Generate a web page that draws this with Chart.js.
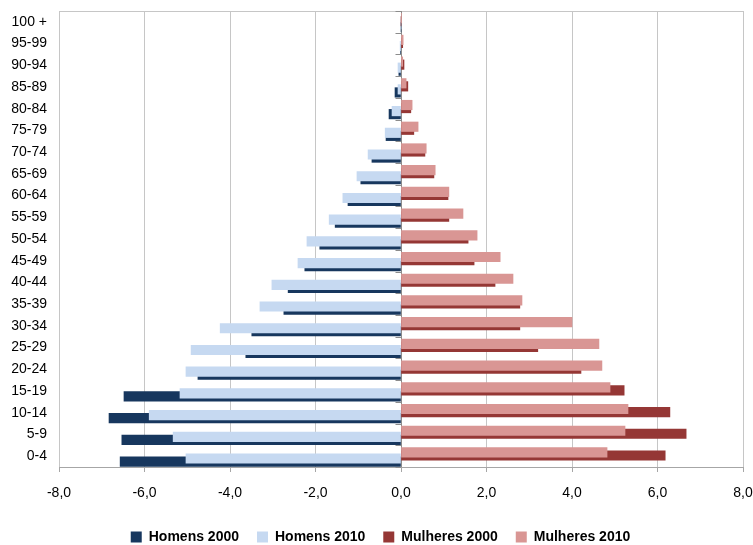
<!DOCTYPE html>
<html>
<head>
<meta charset="utf-8">
<script src="https://cdn.jsdelivr.net/npm/chart.js@4/dist/chart.umd.min.js"></script>
<style>
  html, body { margin: 0; padding: 0; background: #fff; }
  #wrap { width: 753px; height: 545px; }
</style>
</head>
<body>
<div id="wrap"><canvas id="c" width="753" height="545"></canvas></div>
<script>
// Age groups, bottom (youngest) to top (oldest)
const ageGroups = ['0-4', '5-9', '10-14', '15-19', '20-24', '25-29', '30-34', '35-39', '40-44', '45-49',
  '50-54', '55-59', '60-64', '65-69', '70-74', '75-79', '80-84', '85-89', '90-94', '95-99', '100 +'];

// Share of the population (%), men drawn to the left as negative values
const homens2000 = [-6.57, -6.53, -6.83, -6.48, -4.75, -3.63, -3.49, -2.74, -2.64, -2.25,
  -1.90, -1.54, -1.24, -0.94, -0.68, -0.35, -0.28, -0.14, -0.05, -0.01, 0];
const homens2010 = [-5.03, -5.33, -5.89, -5.17, -5.03, -4.91, -4.23, -3.30, -3.02, -2.41,
  -2.20, -1.68, -1.36, -1.03, -0.77, -0.37, -0.21, -0.07, -0.07, -0.02, 0];
const mulheres2000 = [6.18, 6.67, 6.29, 5.22, 4.21, 3.20, 2.78, 2.78, 2.20, 1.71,
  1.57, 1.12, 1.10, 0.77, 0.56, 0.30, 0.23, 0.16, 0.07, 0.04, 0];
const mulheres2010 = [4.82, 5.24, 5.31, 4.89, 4.70, 4.63, 4.00, 2.83, 2.62, 2.32,
  1.78, 1.45, 1.12, 0.80, 0.59, 0.40, 0.26, 0.12, 0.04, 0.05, 0.01];

const seriesNames = ['Homens 2000', 'Homens 2010', 'Mulheres 2000', 'Mulheres 2010'];
const seriesColors = ['#17375E', '#C6D9F1', '#953735', '#D99694'];
// Vertical slot of each series inside its age band, so the bars overlap in steps
const bandShift = [-0.25, -0.11, 0.03, 0.17];

Chart.defaults.font.family = "'Liberation Sans', Arial, sans-serif";
Chart.defaults.font.size = 14;
Chart.defaults.color = '#000';

const seriesValues = [homens2000, homens2010, mulheres2000, mulheres2010];
const datasets = seriesValues.map((vals, k) => ({
  label: seriesNames[k],
  data: vals.map((v, i) => ({ x: v, y: i + bandShift[k] })),
  backgroundColor: seriesColors[k],
  borderWidth: 0,
  barThickness: 9.5,
  grouped: false,
  xAxisID: 'x',
  yAxisID: 'y',
  order: seriesValues.length - k   // later series painted on top
}));

// Plot frame top line, plus the vertical axis at zero with a small tick
// between every pair of age groups
const plotFrame = {
  id: 'plotFrame',
  beforeDatasetsDraw(chart) {
    const { ctx, chartArea: a, scales } = chart;
    const x0 = Math.round(scales.x.getPixelForValue(0)) + 0.5;
    ctx.save();
    ctx.lineWidth = 1;
    ctx.strokeStyle = '#c6c6c6';
    ctx.beginPath();
    ctx.moveTo(a.left, Math.round(a.top) + 0.5);
    ctx.lineTo(a.right, Math.round(a.top) + 0.5);
    ctx.stroke();
    ctx.strokeStyle = '#8c8c8c';
    ctx.beginPath();
    ctx.moveTo(x0, a.top);
    ctx.lineTo(x0, a.bottom);
    for (let i = 0; i <= ageGroups.length; i++) {
      const yb = Math.round(scales.y.getPixelForValue(i - 0.5)) + 0.5;
      ctx.moveTo(x0 - 6, yb);
      ctx.lineTo(x0, yb);
    }
    ctx.stroke();
    ctx.restore();
  }
};

new Chart(document.getElementById('c'), {
  type: 'bar',
  data: { datasets },
  plugins: [plotFrame],
  options: {
    indexAxis: 'y',
    responsive: false,
    animation: false,
    layout: { padding: { left: 8, top: 11, right: 0, bottom: -9 } },
    plugins: {
      legend: {
        position: 'bottom',
        labels: {
          boxWidth: 11,
          boxHeight: 11,
          padding: 18,
          color: '#000',
          font: { size: 14, weight: 'bold' },
          sort: (a, b) => a.datasetIndex - b.datasetIndex
        }
      },
      tooltip: { enabled: false }
    },
    scales: {
      x: {
        type: 'linear',
        min: -8,
        max: 8,
        afterFit: s => { s.height = 45; s.paddingLeft = 0; s.paddingRight = 10; },
        ticks: {
          stepSize: 2,
          padding: 13,
          color: '#000',
          callback: v => v.toFixed(1).replace('.', ',')
        },
        grid: {
          color: c => (c.tick && c.tick.value === 0) ? 'rgba(0,0,0,0)' : '#c6c6c6',
          tickColor: '#a6a6a6',
          tickLength: 5,
          lineWidth: 1
        },
        border: { color: '#a6a6a6' }
      },
      y: {
        type: 'linear',
        offset: false,
        min: -0.5,
        max: 20.5,
        afterBuildTicks: s => { s.ticks = ageGroups.map((_, i) => ({ value: i })); },
        afterFit: s => { s.width = 51; s.paddingTop = 0; s.paddingBottom = 0; },
        ticks: {
          autoSkip: false,
          padding: 12,
          color: '#000',
          callback: v => ageGroups[v]
        },
        grid: { display: false, drawTicks: false, offset: false },
        border: { display: false }
      }
    }
  }
});
</script>
</body>
</html>
